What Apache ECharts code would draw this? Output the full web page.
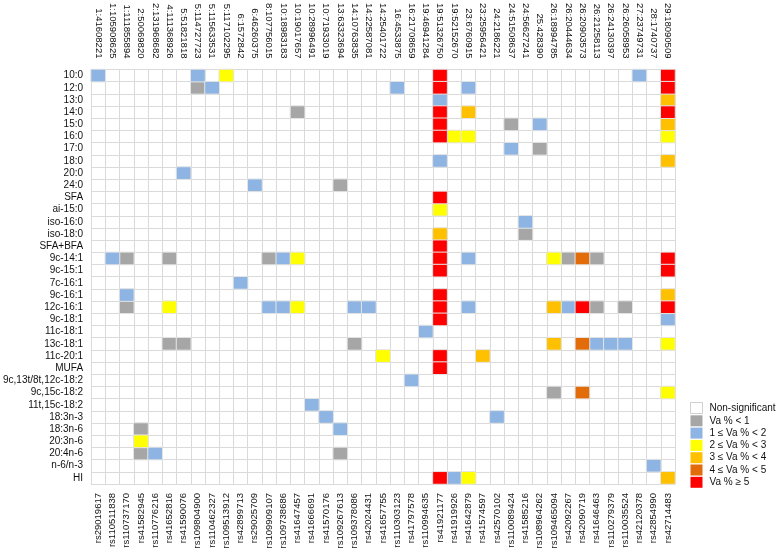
<!DOCTYPE html>
<html>
<head>
<meta charset="utf-8">
<script src="https://cdn.jsdelivr.net/npm/echarts@6/dist/echarts.min.js"></script>
<style>html,body{margin:0;padding:0;background:#fff}#c{width:778px;height:552px}</style>
</head>
<body>
<div id="c"></div>
<script>
const yLabels = ['10:0','12:0','13:0','14:0','15:0','16:0','17:0','18:0','20:0','24:0','SFA','ai-15:0','iso-16:0','iso-18:0','SFA+BFA','9c-14:1','9c-15:1','7c-16:1','9c-16:1','12c-16:1','9c-18:1','11c-18:1','13c-18:1','11c-20:1','MUFA','9c,13t/8t,12c-18:2','9c,15c-18:2','11t,15c-18:2','18:3n-3','18:3n-6','20:3n-6','20:4n-6','n-6/n-3','HI'];
const topLabels = ['1:41608221','1:105908625','1:111855894','2:50069820','2:131968682','4:111368926','5:51821818','5:114727723','5:115633531','5:117102295','6:1572842','6:46260375','8:107756015','10:18983183','10:19017657','10:28996491','10:71933019','13:63323694','14:10763835','14:22587081','14:25401722','16:4533875','16:21708659','19:46941284','19:51326750','19:52152670','23:6760915','23:25956421','24:2186221','24:51508637','24:56627241','25:428390','26:18994785','26:20444634','26:20903573','26:21258113','26:24130397','26:26058953','27:23749731','28:1740737','29:18090509'];
const bottomLabels = ['rs29019617','rs110511838','rs110737170','rs41582945','rs110776216','rs41652816','rs41590076','rs109804900','rs110462327','rs109513912','rs42899713','rs29025709','rs109909107','rs109738686','rs41647457','rs41666691','rs41570176','rs109267613','rs109378086','rs42024431','rs41657755','rs110303123','rs41797578','rs110994635','rs41921177','rs41919926','rs41642879','rs41574597','rs42570102','rs110089424','rs41585216','rs108964262','rs109465094','rs42092267','rs42090719','rs41646463','rs110279379','rs110035524','rs42120378','rs42854990','rs42714483'];

const levelNames = ['Non-significant','Va % < 1','1 \u2264 Va % < 2','2 \u2264 Va % < 3','3 \u2264 Va % < 4','4 \u2264 Va % < 5','Va % \u2265 5'];
const levelColors = ['#FFFFFF','#A6A6A6','#8DB4E2','#FFFF00','#FFC000','#E26B0A','#FF0000'];

// cells as [columnIndex, rowIndex]
const cellsLt1 = [[7,1],[14,3],[29,4],[31,6],[17,9],[30,13],[2,15],[5,15],[12,15],[33,15],[35,15],[2,19],[35,19],[37,19],[5,22],[6,22],[18,22],[32,26],[3,29],[3,31],[17,31]];
const cells1to2 = [[0,0],[7,0],[38,0],[8,1],[21,1],[26,1],[24,2],[31,4],[29,6],[24,7],[6,8],[11,9],[30,12],[1,15],[13,15],[26,15],[10,17],[2,18],[12,19],[13,19],[18,19],[19,19],[26,19],[33,19],[40,20],[23,21],[35,22],[36,22],[37,22],[22,25],[15,27],[16,28],[28,28],[17,29],[4,31],[39,32],[25,33]];
const cells2to3 = [[9,0],[25,5],[26,5],[40,5],[24,11],[14,15],[32,15],[5,19],[14,19],[40,22],[20,23],[40,26],[3,30],[26,33]];
const cells3to4 = [[40,2],[26,3],[40,4],[40,7],[24,13],[40,18],[32,19],[32,22],[27,23],[40,33]];
const cells4to5 = [[34,15],[34,22],[34,26]];
const cellsGe5 = [[24,0],[40,0],[24,1],[40,1],[24,3],[40,3],[24,4],[24,5],[24,10],[24,14],[24,15],[40,15],[24,16],[40,16],[24,18],[24,19],[34,19],[40,19],[24,20],[24,23],[24,24],[24,33]];

const levelCells = [[], cellsLt1, cells1to2, cells2to3, cells3to4, cells4to5, cellsGe5];

const font = 'Liberation Sans, Arial, sans-serif';
const series = levelNames.map((name, i) => ({
  name: name,
  type: 'heatmap',
  xAxisIndex: 0,
  yAxisIndex: 0,
  data: levelCells[i].map(c => [c[0], c[1], i]),
  itemStyle: { color: levelColors[i], borderColor: '#E4E4E4', borderWidth: 1 },
  emphasis: { disabled: true },
  animation: false
}));

const chart = echarts.init(document.getElementById('c'), null, { renderer: 'canvas' });
chart.setOption({
  backgroundColor: '#fff',
  animation: false,
  textStyle: { fontFamily: font },
  grid: { left: 89, right: 103, top: 68, bottom: 68 },
  xAxis: [
    {
      type: 'category', data: bottomLabels, position: 'bottom',
      axisLine: { show: false }, axisTick: { show: false },
      axisLabel: { interval: 0, rotate: 90, fontSize: 9.5, color: '#111', margin: 9, fontFamily: font },
      splitLine: { show: true, interval: 0, lineStyle: { color: '#DADADA', width: 1 } }
    },
    {
      type: 'category', data: topLabels, position: 'top',
      axisLine: { show: false }, axisTick: { show: false },
      axisLabel: { interval: 0, rotate: 90, fontSize: 9.5, color: '#111', margin: 11, fontFamily: font },
      splitLine: { show: false }
    }
  ],
  yAxis: {
    type: 'category', data: yLabels, inverse: true,
    axisLine: { show: false }, axisTick: { show: false },
    axisLabel: { interval: 0, fontSize: 10, color: '#111', margin: 8, fontFamily: font },
    splitLine: { show: true, interval: 0, lineStyle: { color: '#DADADA', width: 1 } }
  },
  legend: {
    orient: 'vertical', left: 685, top: 397,
    itemWidth: 12, itemHeight: 11, itemGap: 1.3,
    icon: 'rect', selectedMode: false,
    textStyle: { fontSize: 10, color: '#111', fontFamily: font, padding: [0,0,0,2] },
    data: levelNames.map((n, i) => ({ name: n, itemStyle: { color: levelColors[i], borderColor: i === 0 ? '#D0D0D0' : levelColors[i], borderWidth: i === 0 ? 1 : 0 } }))
  },
  series: series
});
</script>
</body>
</html>
